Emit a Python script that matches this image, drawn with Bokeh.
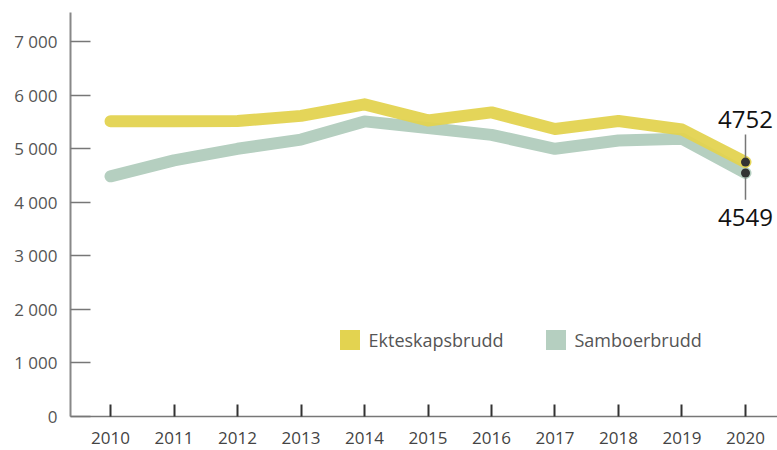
from bokeh.plotting import figure
from bokeh.models import Range1d, FixedTicker, Legend, LegendItem
from bokeh.core.properties import value
from bokeh.embed import file_html
from bokeh.resources import INLINE

years = [2010, 2011, 2012, 2013, 2014, 2015, 2016, 2017, 2018, 2019, 2020]
ekteskapsbrudd = [5515, 5515, 5520, 5615, 5830, 5530, 5680, 5370, 5520, 5360, 4752]
samboerbrudd = [4486, 4783, 5000, 5172, 5512, 5390, 5260, 5000, 5155, 5190, 4549]
y_ticks = [0, 1000, 2000, 3000, 4000, 5000, 6000, 7000]
y_tick_labels = ["0", "1 000", "2 000", "3 000", "4 000", "5 000", "6 000", "7 000"]
series_names = ["Ekteskapsbrudd", "Samboerbrudd"]

YELLOW = "#e3d350"
GREEN = "#b5cfc0"
FONT = "Open Sans"
NAN = float("nan")

p = figure(width=777, height=450, output_backend="svg", toolbar_location=None,
           x_range=Range1d(2009.370, 2020.504), y_range=Range1d(0, 7546),
           min_border_left=70, min_border_right=0, min_border_top=12, min_border_bottom=34)
p.outline_line_color = None
p.xgrid.visible = False
p.ygrid.visible = False
p.background_fill_color = "white"
p.border_fill_color = "white"

# axes
p.yaxis.ticker = FixedTicker(ticks=y_ticks)
p.yaxis.major_label_overrides = dict(zip(y_ticks, y_tick_labels))
p.yaxis.minor_tick_line_color = None
p.yaxis.major_tick_in = 20
p.yaxis.major_tick_out = 0
p.yaxis.major_tick_line_color = "#777777"
p.yaxis.major_tick_line_width = 1.5
p.yaxis.axis_line_color = "#888888"
p.yaxis.axis_line_width = 2
p.yaxis.major_label_standoff = 13
p.yaxis.major_label_text_font = FONT
p.yaxis.major_label_text_font_size = "17px"
p.yaxis.major_label_text_color = "#555555"

p.xaxis.ticker = FixedTicker(ticks=years)
p.xaxis.minor_tick_line_color = None
p.xaxis.major_tick_in = 12
p.xaxis.major_tick_out = 0
p.xaxis.major_tick_line_color = "#333333"
p.xaxis.major_tick_line_width = 2
p.xaxis.axis_line_color = "#777777"
p.xaxis.axis_line_width = 1.5
p.xaxis.major_label_standoff = 15
p.xaxis.major_label_text_font = FONT
p.xaxis.major_label_text_font_size = "17px"
p.xaxis.major_label_text_color = "#444444"

# lines
p.line(years, samboerbrudd, line_color=GREEN, line_width=12, line_cap="round", line_join="round")
p.line(years, ekteskapsbrudd, line_color=YELLOW, line_width=12, line_cap="round", line_join="round", line_alpha=0.95)

# end markers and labels
last_e = ekteskapsbrudd[-1]
last_s = samboerbrudd[-1]
p.segment(x0=[years[-1]], y0=[last_e + 85], x1=[years[-1]], y1=[last_e + 515],
          line_color="#777777", line_width=1.5)
p.segment(x0=[years[-1]], y0=[last_s - 90], x1=[years[-1]], y1=[last_s - 500],
          line_color="#777777", line_width=1.5)
p.scatter([years[-1], years[-1]], [last_e, last_s], size=9, fill_color="#333333", line_color=None)
p.text([years[-1]], [last_e], text=[str(last_e)], text_align="center", text_baseline="middle",
       y_offset=-43, text_font=value(FONT), text_font_size="24px", text_color="#111111")
p.text([years[-1]], [last_s], text=[str(last_s)], text_align="center", text_baseline="middle",
       y_offset=45, text_font=value(FONT), text_font_size="24px", text_color="#111111")

# legend (two separately placed single-item legends)
r_e = p.quad(left=[NAN], right=[NAN], top=[NAN], bottom=[NAN], fill_color=YELLOW, line_color=None)
r_s = p.quad(left=[NAN], right=[NAN], top=[NAN], bottom=[NAN], fill_color=GREEN, line_color=None)
for r, name, x in [(r_e, series_names[0], 266.5), (r_s, series_names[1], 472.5)]:
    lg = Legend(items=[LegendItem(label=name, renderers=[r], index=0)], location=(x, 64),
                glyph_width=25, glyph_height=25, label_height=25, label_standoff=7,
                padding=0, margin=0, border_line_color=None, background_fill_alpha=0,
                label_text_font=FONT, label_text_font_size="18px", label_text_color="#555555")
    p.add_layout(lg, "center")

open("out.html", "w").write(file_html(p, INLINE))
